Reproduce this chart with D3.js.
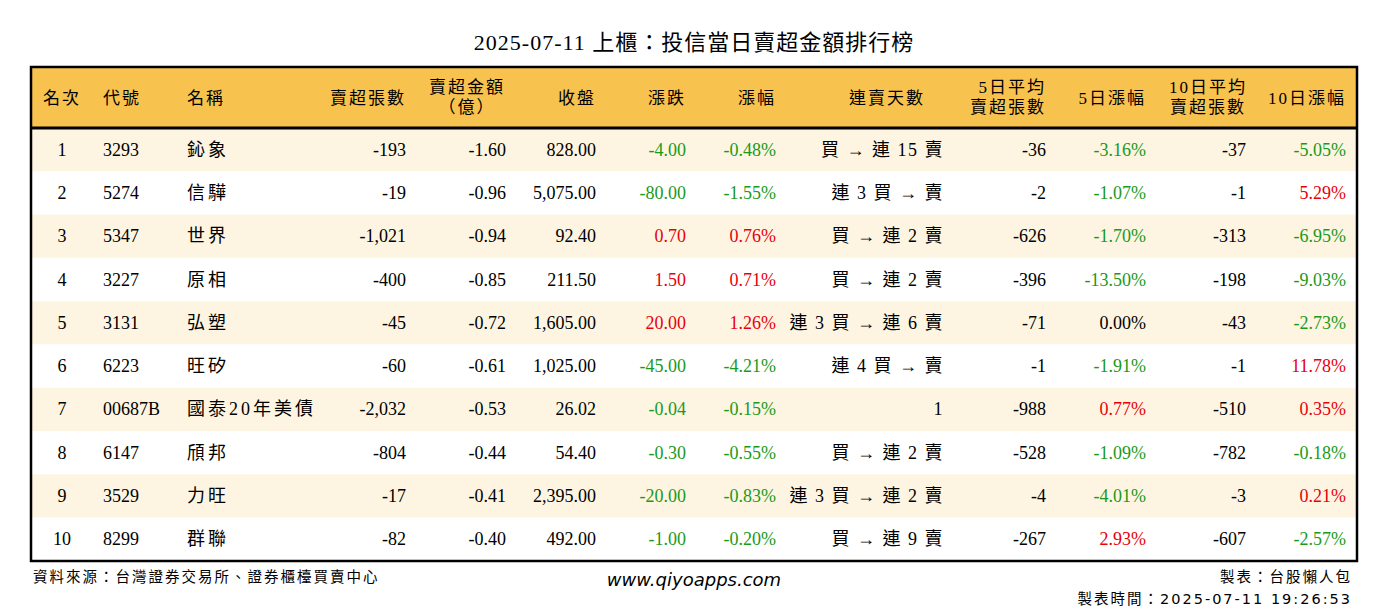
<!DOCTYPE html>
<html><head><meta charset="utf-8">
<script src="https://cdn.jsdelivr.net/npm/d3@7"></script>
<style>body{margin:0;background:#fff}</style></head>
<body><svg id="c" width="1388" height="612"></svg>
<script>
const title = "2025-07-11 上櫃：投信當日賣超金額排行榜";
const headers = ["名次","代號","名稱","賣超張數","賣超金額|（億）","收盤","漲跌","漲幅","連賣天數","5日平均|賣超張數","5日漲幅","10日平均|賣超張數","10日漲幅"];
const ranks = [1,2,3,4,5,6,7,8,9,10];
const codes = ["3293","5274","5347","3227","3131","6223","00687B","6147","3529","8299"];
const names = ["鈊象","信驊","世界","原相","弘塑","旺矽","國泰20年美債","頎邦","力旺","群聯"];
const netShares = [-193,-19,-1021,-400,-45,-60,-2032,-804,-17,-82];
const netAmount = [-1.60,-0.96,-0.94,-0.85,-0.72,-0.61,-0.53,-0.44,-0.41,-0.40];
const closes = [828.00,5075.00,92.40,211.50,1605.00,1025.00,26.02,54.40,2395.00,492.00];
const changes = [-4.00,-80.00,0.70,1.50,20.00,-45.00,-0.04,-0.30,-20.00,-1.00];
const pcts = [-0.48,-1.55,0.76,0.71,1.26,-4.21,-0.15,-0.55,-0.83,-0.20];
const streaks = ["買 → 連 15 賣","連 3 買 → 賣","買 → 連 2 賣","買 → 連 2 賣","連 3 買 → 連 6 賣","連 4 買 → 賣","1","買 → 連 2 賣","連 3 買 → 連 2 賣","買 → 連 9 賣"];
const avg5 = [-36,-2,-626,-396,-71,-1,-988,-528,-4,-267];
const pct5 = [-3.16,-1.07,-1.70,-13.50,0.00,-1.91,0.77,-1.09,-4.01,2.93];
const avg10 = [-37,-1,-313,-198,-43,-1,-510,-782,-3,-607];
const pct10 = [-5.05,5.29,-6.95,-9.03,-2.73,11.78,0.35,-0.18,0.21,-2.57];

const svg = d3.select("#c");
const F = "'Liberation Serif','Noto Sans CJK TC',serif";
const L=31,R=1357,T=67,HB=128,B=561;
const y = d3.scaleBand().domain(d3.range(10)).range([HB,B]);
const red="#e8000b", green="#1a9a1a";
const loc = d3.formatLocale({decimal:".",thousands:",",grouping:[3],currency:["",""],minus:"-"});
const f2=loc.format(",.2f"), f0=loc.format(",");
const col = (v)=> v>0?red:(v<0?green:"#000");
const cols = [
 {x:62,a:"middle",v:i=>ranks[i]},
 {x:103,a:"start",v:i=>codes[i]},
 {x:187,a:"start",v:i=>names[i],ls:3},
 {x:406,a:"end",v:i=>f0(netShares[i])},
 {x:506,a:"end",v:i=>f2(netAmount[i])},
 {x:596,a:"end",v:i=>f2(closes[i])},
 {x:686,a:"end",v:i=>f2(changes[i]),c:i=>col(changes[i])},
 {x:776,a:"end",v:i=>f2(pcts[i])+"%",c:i=>col(pcts[i])},
 {x:944,a:"end",v:i=>streaks[i],ls:1.5},
 {x:1046,a:"end",v:i=>f0(avg5[i])},
 {x:1146,a:"end",v:i=>f2(pct5[i])+"%",c:i=>col(pct5[i])},
 {x:1246,a:"end",v:i=>f0(avg10[i])},
 {x:1346,a:"end",v:i=>f2(pct10[i])+"%",c:i=>col(pct10[i])}
];
const hx=[62,103,187,406,467,596,686,776,887,1046,1146,1208,1346];
const ha=["middle","start","start","end","middle","end","end","end","middle","end","end","middle","end"];

svg.append("text").attr("x",694).attr("y",50).attr("text-anchor","middle").attr("font-family",F).attr("font-size",22).attr("letter-spacing",1).text(title);
svg.append("rect").attr("x",L).attr("y",T).attr("width",R-L).attr("height",HB-T).attr("fill","#f8c24f");
svg.selectAll(".row").data(d3.range(10)).join("rect").attr("x",L).attr("y",i=>y(i)).attr("width",R-L).attr("height",y.bandwidth()).attr("fill",i=>i%2==0?"#fdf5e2":"#fff");
headers.forEach((h,j)=>{
  const parts=h.split("|");
  const t=svg.append("text").attr("text-anchor",ha[j]).attr("font-family",F).attr("font-size",17).attr("letter-spacing",2);
  if(parts.length==1) t.append("tspan").attr("x",hx[j]).attr("y",104).text(parts[0]);
  else parts.forEach((p,k)=>t.append("tspan").attr("x",hx[j]).attr("y",93+k*20).text(p));
});
svg.selectAll(".r").data(d3.range(10)).join("g").each(function(i){
  const g=d3.select(this);
  cols.forEach(c=>{
    g.append("text").attr("x",c.x).attr("y",y(i)+y.bandwidth()/2+6).attr("text-anchor",c.a)
     .attr("font-family",F).attr("font-size",18).attr("letter-spacing",c.ls||0).attr("fill",c.c?c.c(i):"#000").text(c.v(i));
  });
});
svg.append("line").attr("x1",L).attr("x2",R).attr("y1",HB).attr("y2",HB).attr("stroke","#000").attr("stroke-width",3);
svg.append("rect").attr("x",L).attr("y",T).attr("width",R-L).attr("height",B-T).attr("fill","none").attr("stroke","#000").attr("stroke-width",2.5);
const FS="'DejaVu Sans','Noto Sans CJK TC',sans-serif";
const foot=(x,yy,a,t)=>svg.append("text").attr("x",x).attr("y",yy).attr("text-anchor",a).attr("font-family",FS).attr("font-size",14.5).attr("letter-spacing",2).text(t);
foot(33,582,"start","資料來源：台灣證券交易所、證券櫃檯買賣中心");
svg.append("text").attr("x",694).attr("y",586).attr("text-anchor","middle").attr("font-family",FS).attr("font-style","italic").attr("font-size",18).text("www.qiyoapps.com");
foot(1352,582,"end","製表：台股懶人包");
foot(1352,604,"end","製表時間：2025-07-11 19:26:53");
</script></body></html>
